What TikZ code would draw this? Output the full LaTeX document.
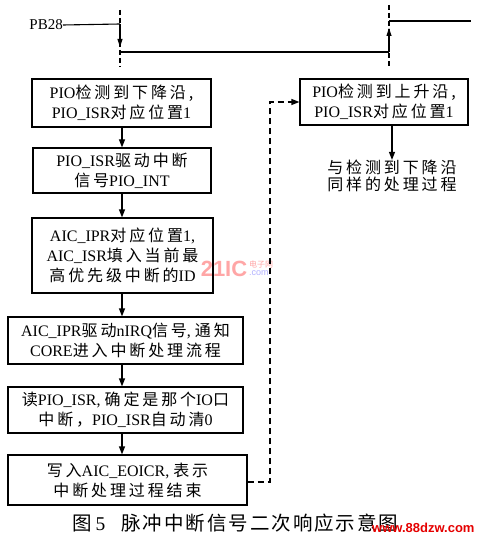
\documentclass[tikz,border=0pt]{standalone}
\usepackage{fontspec}
\setmainfont{Liberation Serif}
\newfontfamily\cjk{Noto Sans CJK SC}[LetterSpace=18]
\newfontfamily\cjkcap{Noto Sans CJK SC}[LetterSpace=10]
\newfontfamily\cjkplain{Noto Sans CJK SC}
\newfontfamily\wmfont{Liberation Sans}
\usetikzlibrary{arrows.meta,calc}
\newcommand{\zh}[1]{{\cjk #1}}
\begin{document}
\begin{tikzpicture}[x=1pt,y=-1pt,
  box/.style={draw,line width=1.2pt,inner sep=0pt,align=center,
    font=\fontsize{16}{20}\selectfont},
  plain/.style={inner sep=0pt,align=center,font=\fontsize{16}{17}\selectfont},
  flow/.style={line width=1.2pt,-{Triangle[length=8pt,width=6pt]}},
  sig/.style={line width=1.1pt},
  guide/.style={line width=1.1pt,dash pattern=on 5pt off 3pt},
  back/.style={line width=1.2pt,dash pattern=on 6pt off 4pt,-{Triangle[length=8pt,width=6pt]}}]
\useasboundingbox (0,0) rectangle (487,540);
\fill[white] (0,0) rectangle (487,540);

% watermark
\node[inner sep=0pt,text=red!35,font=\wmfont\bfseries\fontsize{22}{22}\selectfont] (wm1) at (224,269) {21IC};
\node[inner sep=0pt,text=red!35,font=\cjkplain\fontsize{8}{8}\selectfont,anchor=south west] (wm2) at (249,268) {电子网};
\node[inner sep=0pt,text=blue!30,font=\wmfont\fontsize{9}{9}\selectfont,anchor=north west] (wm3) at (249,270) {.com};

% signal
\node[inner sep=0pt,font=\fontsize{15}{15}\selectfont,anchor=east] (pb) at (63,25) {PB28};
\coordinate (f1) at (120,24);
\coordinate (f2) at (120,52);
\coordinate (r1) at (389,52);
\coordinate (r2) at (389,21);
\coordinate (hi) at (471,21);
\coordinate (g1t) at (120,10);
\coordinate (g1b) at (120,67);
\coordinate (g2t) at (389,5);
\coordinate (g2b) at (389,66);
\draw[guide] (g1t) -- (g1b);
\draw[guide] (g2t) -- (g2b);
\draw[sig] (pb.east) -- (f1);
\draw[sig] (f2) -- (r1);
\draw[sig] (r2) -- (hi);
\draw[line width=1.1pt,-{Triangle[length=8pt,width=5pt]}] (f1) -- ($(f2)+(0,-5)$);
\draw[line width=1.1pt,-{Triangle[length=8pt,width=5pt]}] (r1) -- ($(r2)+(0,7)$);

% boxes
\node[box,minimum width=179pt,minimum height=48pt] (b1) at (121.5,103)
  {PIO\zh{检测到下降沿,}\\PIO\_ISR\zh{对应位置}1};
\node[box,minimum width=178pt,minimum height=45pt] (b2) at (122,170.5)
  {PIO\_ISR\zh{驱动中断}\\\zh{信号}PIO\_INT};
\node[box,minimum width=181pt,minimum height=75pt] (b3) at (122.5,255.5)
  {AIC\_IPR\zh{对应位置}1,\\AIC\_ISR\zh{填入当前最}\\\zh{高优先级中断的}ID};
\node[box,minimum width=235pt,minimum height=47pt] (b4) at (125.5,340.5)
  {AIC\_IPR\zh{驱动}nIRQ\zh{信号}, \zh{通知}\\CORE\zh{进入中断处理流程}};
\node[box,minimum width=235pt,minimum height=46pt] (b5) at (125.5,410)
  {\zh{读}PIO\_ISR, \zh{确定是那个}IO\zh{口}\\\zh{中断，}PIO\_ISR\zh{自动清}0};
\node[box,minimum width=239pt,minimum height=50pt] (b6) at (127.5,480)
  {\zh{写入}AIC\_EOICR, \zh{表示}\\\zh{中断处理过程结束}};
\node[box,minimum width=168pt,minimum height=46pt] (b7) at (384,102)
  {PIO\zh{检测到上升沿,}\\PIO\_ISR\zh{对应位置}1};
\node[plain] (t8) at (392,176)
  {\zh{与检测到下降沿}\\\zh{同样的处理过程}};

% flow arrows
\coordinate (cx) at (122,0);
\draw[flow] (cx |- b1.south) -- (cx |- b2.north);
\draw[flow] (cx |- b2.south) -- (cx |- b3.north);
\draw[flow] (cx |- b3.south) -- (cx |- b4.north);
\draw[flow] (cx |- b4.south) -- (cx |- b5.north);
\draw[flow] (cx |- b5.south) -- (cx |- b6.north);
\coordinate (rx) at (392,0);
\draw[flow] (rx |- b7.south) -- (rx |- t8.north);

% feedback
\coordinate (k1) at (270,482);
\coordinate (k2) at (270,102);
\draw[back] (b6.east |- k1) -- (k1) -- (k2) -- (b7.west |- k2);

% caption
\node[inner sep=0pt,font=\fontsize{19.5}{20}\selectfont,anchor=west] (cap) at (72,523)
  {{\cjkcap 图}\hspace{4pt}5\hspace{16pt}{\cjkcap 脉冲中断信号二次响应示意图}};
\node[inner sep=0pt,text=red!90!black,font=\wmfont\bfseries\fontsize{13}{13}\selectfont,anchor=west] (wm4) at (372,528) {www.88dzw.com};
\end{tikzpicture}
\end{document}
